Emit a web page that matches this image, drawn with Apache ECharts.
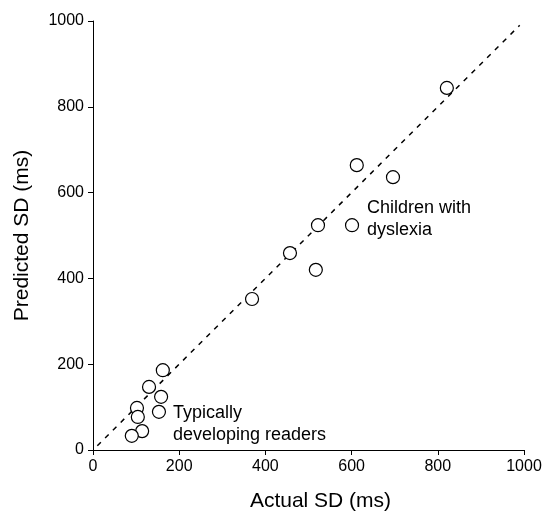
<!DOCTYPE html>
<html>
<head>
<meta charset="utf-8">
<script src="https://cdn.jsdelivr.net/npm/echarts@6/dist/echarts.min.js"></script>
<style>
  html, body { margin: 0; padding: 0; background: #fff; }
  #chart1 { width: 544px; height: 511px; }
</style>
</head>
<body>
<div id="chart1"></div>
<script>
var dyslexia = [[821, 844], [612, 664], [696, 636], [522, 524], [601, 524], [457, 459], [517, 420], [369, 352]];
var typical = [[162, 186], [130, 147], [158, 124], [102, 98], [104, 77], [153, 89], [114, 44], [90, 33]];
var identityLine = [[10, 10], [990, 990]];

var myChart = echarts.init(document.getElementById('chart1'));
var font = 'Liberation Sans, Arial, sans-serif';
var plainNumber = function (v) { return String(v); };

option = {
    animation: false,
    backgroundColor: '#fff',
    grid: {
        left: 93,
        right: 20,
        top: 21,
        bottom: 61,
        containLabel: false,
        outerBoundsMode: 'none'
    },
    xAxis: {
        type: 'value',
        min: 0,
        max: 1000,
        interval: 200,
        name: 'Actual SD (ms)',
        nameLocation: 'middle',
        nameGap: 41,
        nameTextStyle: { fontSize: 21, color: '#000', fontFamily: font, padding: [0, 0, 0, 24] },
        axisLine: { onZero: false, lineStyle: { color: '#000', width: 1 } },
        axisTick: { length: 5, lineStyle: { color: '#000' } },
        axisLabel: { fontSize: 16, color: '#000', fontFamily: font, margin: 9, formatter: plainNumber },
        splitLine: { show: false }
    },
    yAxis: {
        type: 'value',
        min: 0,
        max: 1000,
        interval: 200,
        name: 'Predicted SD (ms)',
        nameLocation: 'middle',
        nameGap: 60,
        nameTextStyle: { fontSize: 21, color: '#000', fontFamily: font },
        axisLine: { show: true, onZero: false, lineStyle: { color: '#000', width: 1 } },
        axisTick: { show: true, length: 5, lineStyle: { color: '#000' } },
        axisLabel: { fontSize: 16, color: '#000', fontFamily: font, margin: 9, formatter: plainNumber },
        splitLine: { show: false }
    },
    graphic: [
        {
            type: 'text',
            left: 367,
            top: 197,
            style: {
                text: 'Children with\ndyslexia',
                font: '18px ' + font,
                fill: '#000',
                lineHeight: 22
            }
        },
        {
            type: 'text',
            left: 173,
            top: 402,
            style: {
                text: 'Typically\ndeveloping readers',
                font: '18px ' + font,
                fill: '#000',
                lineHeight: 22
            }
        }
    ],
    series: [
        {
            name: 'Identity',
            type: 'line',
            data: identityLine,
            symbol: 'none',
            lineStyle: { color: '#000', width: 1.5, type: [5, 6] },
            z: 1
        },
        {
            name: 'Children with dyslexia',
            type: 'scatter',
            data: dyslexia,
            symbol: 'circle',
            symbolSize: 13,
            itemStyle: { color: '#fff', borderColor: '#000', borderWidth: 1.2, opacity: 1 },
            z: 2
        },
        {
            name: 'Typically developing readers',
            type: 'scatter',
            data: typical,
            symbol: 'circle',
            symbolSize: 13,
            itemStyle: { color: '#fff', borderColor: '#000', borderWidth: 1.2, opacity: 1 },
            z: 2
        }
    ]
};
myChart.setOption(option);
window.onresize = myChart.resize;
</script>
</body>
</html>
